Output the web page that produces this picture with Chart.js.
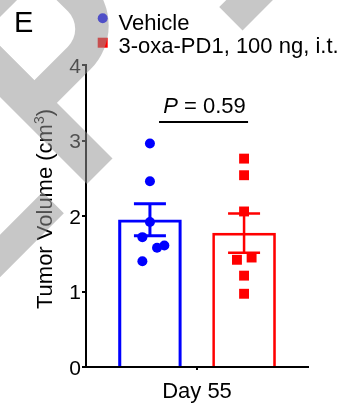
<!DOCTYPE html>
<html>
<head>
<meta charset="utf-8">
<script src="https://cdn.jsdelivr.net/npm/chart.js@4.4.0/dist/chart.umd.min.js"></script>
<style>
html,body{margin:0;padding:0;background:#fff;}
</style>
</head>
<body>
<canvas id="chart" width="350" height="410"></canvas>
<script>
var categories = ["Day 55"];
var seriesLabels = ["Vehicle", "3-oxa-PD1, 100 ng, i.t."];
var groupCenters = [0.288, 0.712];
var vehicleVolumes = [2.96, 2.46, 1.92, 1.72, 1.58, 1.61, 1.40];
var vehicleJitter = [0.288, 0.288, 0.288, 0.254, 0.320, 0.353, 0.254];
var oxaVolumes = [2.76, 2.54, 2.06, 1.42, 1.45, 1.21, 0.97];
var oxaJitter = [0.712, 0.712, 0.712, 0.680, 0.746, 0.712, 0.712];
var yTicks = [0, 1, 2, 3, 4];
var pValue = "0.59";
var yTitle = "Tumor Volume (cm";
var yTitleSup = "3";
var panelLetter = "E";

var FONT = '"Liberation Sans", Arial, sans-serif';
Chart.defaults.font.family = FONT;
Chart.defaults.color = '#000';

function mean(a){ var s=0; for(var i=0;i<a.length;i++) s+=a[i]; return s/a.length; }
function sem(a){
  var m=mean(a), s=0;
  for(var i=0;i<a.length;i++) s+=(a[i]-m)*(a[i]-m);
  return Math.sqrt(s/(a.length-1))/Math.sqrt(a.length);
}
function points(vals, xs){ return vals.map(function(v,i){ return {x:xs[i], y:v}; }); }

// grey diagonal mark over the left side of the figure
function drawWatermark(ctx){
  var off=document.createElement('canvas');
  off.width=ctx.canvas.width; off.height=ctx.canvas.height;
  var o=off.getContext('2d');
  var k=Math.SQRT1_2;
  o.setTransform(k,k,k,-k,0,0);
  o.fillStyle='#969696';
  o.beginPath(); o.roundRect(-40,-50,153,127,[0,0,62,0]); o.fill();
  o.globalCompositeOperation='destination-out';
  o.beginPath(); o.roundRect(12,-32.5,69,72.5,[15,0,25,30]); o.fill();
  o.globalCompositeOperation='source-over';
  o.beginPath();
  o.rect(-100,-68.6,291.6,36.1);
  o.rect(166,-300,30,194.3);
  o.rect(160,150,33,250);
  o.fill();
  ctx.save();
  ctx.setTransform(1,0,0,1,0,0);
  ctx.globalAlpha=0.53;
  ctx.drawImage(off,0,0);
  ctx.restore();
}

var extras = {
  id:'extras',
  afterDatasetDraw:function(chart,args){
    if(args.meta.type!=='bar') return;
    var vals = args.index===0 ? vehicleVolumes : oxaVolumes;
    var m=mean(vals), s=sem(vals);
    var yS=chart.scales.y, x=args.meta.data[0].x;
    var top=yS.getPixelForValue(m+s), bot=yS.getPixelForValue(m-s);
    var ctx=chart.ctx;
    ctx.save();
    ctx.strokeStyle=chart.data.datasets[args.index].borderColor;
    ctx.lineWidth=args.index===0?3:2.5;
    ctx.beginPath();
    ctx.moveTo(x,top); ctx.lineTo(x,bot);
    ctx.moveTo(x-16,top); ctx.lineTo(x+16,top);
    ctx.moveTo(x-16,bot); ctx.lineTo(x+16,bot);
    ctx.stroke();
    ctx.restore();
  },
  afterDraw:function(chart){
    var ctx=chart.ctx;
    ctx.save();
    // legend
    ctx.fillStyle='#0000ff';
    ctx.beginPath(); ctx.arc(102.7,18.3,5,0,Math.PI*2); ctx.fill();
    ctx.fillStyle='#ff0000';
    ctx.fillRect(97.7,37.7,10,10);
    ctx.fillStyle='#000';
    ctx.font='22px '+FONT;
    ctx.textAlign='left'; ctx.textBaseline='alphabetic';
    ctx.fillText(seriesLabels[0],118.5,29.5);
    ctx.fillText(seriesLabels[1],118.5,53.3);
    // panel letter
    ctx.font='29px '+FONT;
    ctx.fillText(panelLetter,14,31.7);
    // y title with superscript
    ctx.save();
    ctx.translate(51.7,209);
    ctx.rotate(-Math.PI/2);
    ctx.font='22px '+FONT;
    var w1=ctx.measureText(yTitle).width, w3=ctx.measureText(')').width;
    ctx.font='14px '+FONT;
    var w2=ctx.measureText(yTitleSup).width;
    var tx=-(w1+w2+w3)/2;
    ctx.textAlign='left';
    ctx.font='22px '+FONT;
    ctx.fillText(yTitle,tx,0);
    ctx.font='14px '+FONT;
    ctx.fillText(yTitleSup,tx+w1,-8);
    ctx.font='22px '+FONT;
    ctx.fillText(')',tx+w1+w2,0);
    ctx.restore();
    // P value bracket
    var xs=chart.scales.xp, yS=chart.scales.y;
    var x1=xs.getPixelForValue(0.329), x2=xs.getPixelForValue(0.730);
    var ly=yS.getPixelForValue(3.245);
    ctx.strokeStyle='#000'; ctx.lineWidth=2;
    ctx.beginPath(); ctx.moveTo(x1,ly); ctx.lineTo(x2,ly); ctx.stroke();
    ctx.font='italic 22px '+FONT;
    var wP=ctx.measureText('P').width;
    ctx.font='22px '+FONT;
    var rest=' = '+pValue;
    var wR=ctx.measureText(rest).width;
    var sx=(x1+x2)/2+1-(wP+wR)/2;
    ctx.textAlign='left';
    ctx.font='italic 22px '+FONT;
    ctx.fillText('P',sx,ly-9);
    ctx.font='22px '+FONT;
    ctx.fillText(rest,sx+wP,ly-9);
    ctx.restore();
    drawWatermark(ctx);
  }
};

new Chart(document.getElementById('chart'),{
  type:'bar',
  data:{
    labels:categories,
    datasets:[
      {type:'bar',label:seriesLabels[0],data:[{x:groupCenters[0],y:mean(vehicleVolumes)}],borderColor:'#0000ff',
       backgroundColor:'rgba(255,255,255,0)',borderWidth:2.5,barThickness:63,grouped:false,
       xAxisID:'xp',order:2},
      {type:'bar',label:seriesLabels[1],data:[{x:groupCenters[1],y:mean(oxaVolumes)}],borderColor:'#ff0000',
       backgroundColor:'rgba(255,255,255,0)',borderWidth:2,barThickness:63,grouped:false,
       xAxisID:'xp',order:2},
      {type:'scatter',label:seriesLabels[0],data:points(vehicleVolumes,vehicleJitter),xAxisID:'xp',
       pointStyle:'circle',pointRadius:5,pointBackgroundColor:'#0000ff',pointBorderWidth:0,
       pointBorderColor:'#0000ff',showLine:false,order:1},
      {type:'scatter',label:seriesLabels[1],data:points(oxaVolumes,oxaJitter),xAxisID:'xp',
       pointStyle:'rect',pointRadius:7,pointBackgroundColor:'#ff0000',pointBorderWidth:0,
       pointBorderColor:'#ff0000',showLine:false,order:1}
    ]
  },
  options:{
    responsive:false,
    animation:false,
    events:[],
    layout:{padding:{top:65,right:42,left:0,bottom:0}},
    plugins:{legend:{display:false},tooltip:{enabled:false}},
    scales:{
      x:{
        type:'category',
        offset:true,
        grid:{display:true,drawOnChartArea:false,drawTicks:true,tickLength:3,offset:false,color:'#000',lineWidth:2},
        border:{display:true,color:'#000',width:2},
        ticks:{color:'#000',font:{size:22},padding:9},
        afterFit:function(s){ s.height=43; }
      },
      xp:{type:'linear',display:false,min:0,max:1,offset:false},
      y:{
        min:yTicks[0],max:yTicks[yTicks.length-1],
        grid:{drawOnChartArea:false,drawTicks:true,tickLength:4,color:'#000',lineWidth:2},
        border:{display:true,color:'#000',width:2},
        ticks:{stepSize:1,color:'#000',font:{size:21},padding:1,labelOffset:2},
        afterFit:function(s){ s.width=86; }
      }
    }
  },
  plugins:[extras]
});
</script>
</body>
</html>
